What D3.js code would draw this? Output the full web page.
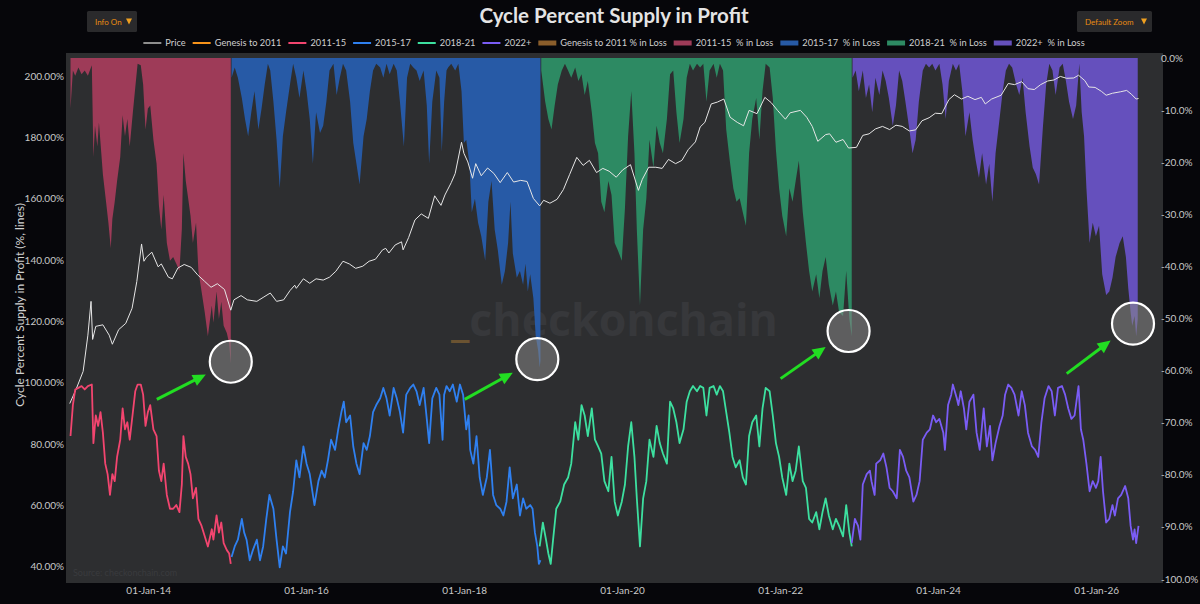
<!DOCTYPE html>
<html>
<head>
<meta charset="UTF-8">
<style>
  body { margin: 0; background: #06060a; }
  svg { display: block; font-family: Lato, "Open Sans", sans-serif; }
</style>
</head>
<body>
<svg id="chart" width="1200" height="604"></svg>
<script src="https://d3js.org/d3.v7.min.js"></script>
<script>
// ---- data: [decimal year, value] ----
const price = [[2013.00,13.5],[2013.08,20],[2013.17,33],[2013.23,90],[2013.27,230],[2013.29,80],[2013.33,115],[2013.42,120],[2013.50,90],[2013.54,70],[2013.62,105],[2013.71,125],[2013.79,190],[2013.85,400],[2013.91,1130],[2013.94,700],[2013.97,780],[2014.04,900],[2014.12,600],[2014.16,650],[2014.25,450],[2014.30,430],[2014.37,580],[2014.45,640],[2014.54,590],[2014.62,480],[2014.71,400],[2014.79,340],[2014.87,375],[2014.96,320],[2015.04,180],[2015.08,240],[2015.17,270],[2015.25,240],[2015.37,230],[2015.46,260],[2015.54,290],[2015.62,230],[2015.71,240],[2015.79,310],[2015.85,360],[2015.87,330],[2015.96,430],[2016.04,380],[2016.12,430],[2016.21,415],[2016.29,450],[2016.37,530],[2016.46,700],[2016.54,650],[2016.62,575],[2016.71,610],[2016.79,700],[2016.87,740],[2016.96,960],[2017.00,1000],[2017.04,880],[2017.12,1100],[2017.20,1200],[2017.22,960],[2017.29,1350],[2017.37,2200],[2017.45,2600],[2017.54,2300],[2017.62,4300],[2017.70,3300],[2017.75,4400],[2017.83,6200],[2017.88,8000],[2017.96,19000],[2017.99,14000],[2018.04,11000],[2018.10,7000],[2018.14,10500],[2018.21,7500],[2018.29,9300],[2018.37,8000],[2018.45,6200],[2018.54,8200],[2018.62,6300],[2018.71,6600],[2018.79,6400],[2018.87,4000],[2018.95,3250],[2019.00,3800],[2019.08,3500],[2019.17,3900],[2019.25,5100],[2019.33,7800],[2019.42,12500],[2019.50,10000],[2019.58,11500],[2019.67,8200],[2019.75,9200],[2019.83,8500],[2019.92,7200],[2020.00,8800],[2020.10,10200],[2020.20,5000],[2020.25,6800],[2020.33,9500],[2020.42,9500],[2020.50,9200],[2020.58,11800],[2020.67,10500],[2020.75,11500],[2020.83,15500],[2020.92,19200],[2020.98,29000],[2021.04,33000],[2021.12,55000],[2021.20,58000],[2021.28,63000],[2021.36,38000],[2021.45,33000],[2021.53,30000],[2021.60,46000],[2021.70,42000],[2021.80,66000],[2021.88,57000],[2021.96,46000],[2022.06,36000],[2022.12,43000],[2022.25,46000],[2022.33,38000],[2022.40,29500],[2022.47,19500],[2022.57,23500],[2022.62,24000],[2022.70,19000],[2022.79,20500],[2022.86,16200],[2022.96,16500],[2023.04,23000],[2023.12,24000],[2023.20,27500],[2023.29,29500],[2023.38,27000],[2023.46,30500],[2023.54,29500],[2023.63,26000],[2023.71,26800],[2023.79,34500],[2023.88,37500],[2023.96,42500],[2024.04,42000],[2024.13,62000],[2024.20,71000],[2024.29,63000],[2024.37,68000],[2024.46,62000],[2024.54,66000],[2024.59,55000],[2024.67,63000],[2024.79,70000],[2024.88,97000],[2024.96,94000],[2025.05,102000],[2025.13,84000],[2025.21,82000],[2025.29,94000],[2025.38,104000],[2025.46,107000],[2025.54,118000],[2025.62,112000],[2025.71,113000],[2025.77,122000],[2025.85,105000],[2025.90,88000],[2025.98,87000],[2026.06,78000],[2026.12,70000],[2026.20,74000],[2026.30,77000],[2026.38,80000],[2026.44,72000],[2026.50,63000],[2026.53,64000]];

// % supply in profit, per cycle (left axis)
const profit1115 = [[2013.01,82.6],[2013.04,92.7],[2013.07,97.8],[2013.11,98.3],[2013.15,98.9],[2013.19,97.8],[2013.23,98.9],[2013.28,99.4],[2013.30,80.3],[2013.33,89.3],[2013.36,85.9],[2013.39,90.4],[2013.42,83.7],[2013.45,73.6],[2013.48,70.2],[2013.51,63.4],[2013.54,70.2],[2013.57,67.9],[2013.60,75.8],[2013.64,81.4],[2013.67,91.6],[2013.70,84.8],[2013.73,87.1],[2013.76,81.4],[2013.80,90.4],[2013.83,97.2],[2013.86,99.4],[2013.90,99.4],[2013.93,96.1],[2013.96,85.9],[2013.99,90.4],[2014.02,92.7],[2014.06,84.8],[2014.10,82.6],[2014.13,71.3],[2014.16,67.9],[2014.19,73.6],[2014.23,63.4],[2014.27,58.9],[2014.31,58.9],[2014.35,60.1],[2014.39,57.8],[2014.42,66.8],[2014.44,82.6],[2014.47,75.8],[2014.50,73.6],[2014.53,70.2],[2014.56,62.3],[2014.60,65.7],[2014.63,55.6],[2014.67,53.3],[2014.71,49.9],[2014.75,46.6],[2014.80,52.2],[2014.82,48.8],[2014.86,56.7],[2014.89,51.1],[2014.92,54.4],[2014.95,47.7],[2014.99,45.4],[2015.02,44.3],[2015.04,40.9]];

const profit1517 = [[2015.05,43.2],[2015.09,46.6],[2015.13,48.8],[2015.18,55.6],[2015.21,51.1],[2015.24,48.8],[2015.28,42.1],[2015.32,45.4],[2015.37,48.8],[2015.41,42.1],[2015.45,46.6],[2015.49,55.6],[2015.53,63.4],[2015.58,58.9],[2015.62,48.8],[2015.66,39.8],[2015.70,46.6],[2015.74,44.3],[2015.79,57.8],[2015.83,64.6],[2015.87,74.7],[2015.91,69.1],[2015.96,79.2],[2016.00,73.6],[2016.04,70.2],[2016.08,63.4],[2016.10,60.1],[2016.15,67.9],[2016.19,71.3],[2016.23,69.1],[2016.27,74.7],[2016.31,81.4],[2016.36,78.1],[2016.40,84.8],[2016.44,90.4],[2016.47,93.8],[2016.50,87.1],[2016.55,89.3],[2016.59,79.2],[2016.63,73.6],[2016.67,70.2],[2016.72,80.3],[2016.76,78.1],[2016.80,82.6],[2016.84,90.4],[2016.88,92.7],[2016.93,94.9],[2016.97,98.3],[2017.01,94.9],[2017.05,89.3],[2017.10,98.3],[2017.14,94.9],[2017.18,90.4],[2017.22,83.7],[2017.26,96.1],[2017.31,98.3],[2017.35,99.4],[2017.39,97.2],[2017.43,92.7],[2017.48,98.3],[2017.52,88.2],[2017.55,80.3],[2017.59,94.9],[2017.64,98.3],[2017.68,96.1],[2017.72,81.4],[2017.74,96.1],[2017.77,98.9],[2017.81,97.2],[2017.85,99.4],[2017.90,93.8],[2017.94,99.4],[2017.98,96.1],[2018.02,84.8],[2018.05,89.3],[2018.07,78.1],[2018.11,73.6],[2018.15,82.6],[2018.19,69.1],[2018.23,63.4],[2018.28,69.1],[2018.32,78.1],[2018.36,63.4],[2018.40,60.1],[2018.45,58.9],[2018.49,56.7],[2018.53,61.2],[2018.57,72.4],[2018.61,62.3],[2018.66,66.8],[2018.70,56.7],[2018.74,62.3],[2018.78,58.9],[2018.83,60.1],[2018.86,58.9],[2018.89,51.1],[2018.92,46.6],[2018.94,40.9],[2018.96,42.1]];

const profit1821 = [[2018.95,46.6],[2018.99,54.4],[2019.03,48.8],[2019.06,44.3],[2019.09,40.9],[2019.12,48.8],[2019.16,58.9],[2019.21,61.2],[2019.26,66.8],[2019.31,69.1],[2019.35,73.6],[2019.40,87.1],[2019.44,81.4],[2019.48,92.7],[2019.52,89.3],[2019.56,82.6],[2019.61,91.6],[2019.65,81.4],[2019.69,79.2],[2019.73,76.9],[2019.77,67.9],[2019.82,64.6],[2019.86,75.8],[2019.90,61.2],[2019.94,56.7],[2019.99,61.2],[2020.03,66.8],[2020.07,79.2],[2020.11,87.1],[2020.15,75.8],[2020.18,62.3],[2020.22,46.6],[2020.26,62.3],[2020.30,67.9],[2020.34,81.4],[2020.39,75.8],[2020.43,85.9],[2020.47,80.3],[2020.51,76.9],[2020.56,73.6],[2020.60,93.8],[2020.64,91.6],[2020.68,87.1],[2020.72,80.3],[2020.77,84.8],[2020.81,93.8],[2020.85,97.2],[2020.89,98.9],[2020.94,97.2],[2020.98,98.9],[2021.02,98.3],[2021.06,89.3],[2021.10,98.3],[2021.15,98.9],[2021.19,96.1],[2021.23,98.9],[2021.27,97.2],[2021.31,90.4],[2021.35,83.7],[2021.39,75.8],[2021.43,72.4],[2021.48,74.7],[2021.52,69.1],[2021.56,66.8],[2021.60,82.6],[2021.64,87.1],[2021.69,89.3],[2021.73,79.2],[2021.77,91.6],[2021.81,98.3],[2021.86,97.2],[2021.90,89.3],[2021.94,80.3],[2021.98,75.8],[2022.02,69.1],[2022.07,63.4],[2022.11,73.6],[2022.15,67.9],[2022.19,71.3],[2022.23,79.2],[2022.28,67.9],[2022.32,65.7],[2022.36,55.6],[2022.40,54.4],[2022.45,57.8],[2022.49,52.2],[2022.53,57.8],[2022.57,62.3],[2022.61,56.7],[2022.66,52.2],[2022.70,55.6],[2022.74,53.3],[2022.79,49.9],[2022.83,60.1],[2022.87,51.1],[2022.90,46.6]];

const profit2022 = [[2022.90,47.7],[2022.94,55.6],[2022.98,53.3],[2023.01,48.8],[2023.04,66.8],[2023.09,70.2],[2023.13,71.3],[2023.15,67.9],[2023.19,63.4],[2023.21,73.6],[2023.26,74.7],[2023.30,76.9],[2023.34,72.4],[2023.38,65.7],[2023.42,64.6],[2023.47,62.3],[2023.51,78.1],[2023.55,75.8],[2023.59,71.3],[2023.63,69.1],[2023.68,61.2],[2023.72,63.4],[2023.76,67.9],[2023.80,81.4],[2023.85,83.7],[2023.89,84.8],[2023.93,89.3],[2023.97,87.1],[2024.01,88.2],[2024.06,83.7],[2024.08,78.1],[2024.12,92.7],[2024.16,96.1],[2024.18,99.4],[2024.23,94.9],[2024.25,92.7],[2024.28,97.2],[2024.32,91.6],[2024.35,84.8],[2024.39,93.8],[2024.44,96.1],[2024.48,83.7],[2024.52,78.1],[2024.57,91.6],[2024.61,79.2],[2024.65,85.9],[2024.68,74.7],[2024.72,80.3],[2024.77,85.9],[2024.81,89.3],[2024.84,96.1],[2024.88,99.4],[2024.92,98.3],[2024.96,96.1],[2025.01,89.3],[2025.05,97.2],[2025.09,92.7],[2025.13,83.7],[2025.18,79.2],[2025.22,78.1],[2025.26,75.8],[2025.30,87.1],[2025.34,94.9],[2025.39,98.9],[2025.43,97.2],[2025.47,89.3],[2025.51,98.3],[2025.56,98.9],[2025.60,96.1],[2025.64,91.6],[2025.68,88.2],[2025.72,89.3],[2025.77,98.9],[2025.80,84.8],[2025.83,81.4],[2025.87,73.6],[2025.91,64.6],[2025.95,67.9],[2025.99,65.7],[2026.02,67.9],[2026.05,75.8],[2026.08,64.6],[2026.12,54.4],[2026.16,55.6],[2026.20,60.1],[2026.23,56.7],[2026.27,62.3],[2026.31,63.4],[2026.36,66.3],[2026.40,62.3],[2026.43,53.3],[2026.46,48.8],[2026.48,52.2],[2026.50,47.7],[2026.53,53.3]];

// % supply in loss, per cycle (right axis)
const loss1115 = [[2013.01,-9.7],[2013.04,-2.4],[2013.07,-3.4],[2013.11,-1.8],[2013.15,-3.1],[2013.19,-2.4],[2013.23,-3.4],[2013.28,-1.4],[2013.30,-19.0],[2013.32,-13.0],[2013.35,-17.0],[2013.37,-12.4],[2013.40,-18.3],[2013.42,-22.3],[2013.46,-27.6],[2013.49,-31.6],[2013.52,-36.5],[2013.54,-30.9],[2013.57,-27.6],[2013.60,-23.6],[2013.64,-19.0],[2013.67,-11.0],[2013.70,-15.0],[2013.73,-11.7],[2013.76,-17.0],[2013.80,-10.4],[2013.83,-5.7],[2013.86,-1.1],[2013.90,-1.4],[2013.93,-5.1],[2013.96,-13.7],[2013.99,-9.7],[2014.02,-9.1],[2014.06,-15.7],[2014.10,-20.3],[2014.13,-28.3],[2014.16,-32.9],[2014.19,-26.3],[2014.23,-35.5],[2014.27,-38.9],[2014.31,-38.2],[2014.35,-39.5],[2014.39,-40.9],[2014.42,-32.9],[2014.44,-18.3],[2014.47,-23.6],[2014.50,-26.9],[2014.53,-30.3],[2014.56,-35.5],[2014.60,-31.6],[2014.63,-40.9],[2014.67,-44.8],[2014.71,-48.8],[2014.75,-53.4],[2014.80,-47.5],[2014.82,-50.8],[2014.86,-44.8],[2014.89,-50.1],[2014.92,-46.8],[2014.95,-51.4],[2014.99,-52.8],[2015.02,-54.8],[2015.04,-58.7]];

const loss1517 = [[2015.05,-3.8],[2015.09,-1.8],[2015.13,-3.8],[2015.18,-7.7],[2015.22,-11.7],[2015.26,-15.0],[2015.30,-10.4],[2015.34,-6.4],[2015.39,-13.7],[2015.43,-9.7],[2015.47,-5.1],[2015.51,-1.1],[2015.54,-2.4],[2015.58,-8.4],[2015.62,-15.7],[2015.66,-25.0],[2015.70,-15.0],[2015.74,-10.4],[2015.79,-5.1],[2015.83,-1.1],[2015.87,-3.8],[2015.91,-7.7],[2015.96,-2.4],[2016.00,-6.4],[2016.04,-11.7],[2016.08,-20.3],[2016.12,-10.4],[2016.17,-14.4],[2016.21,-13.0],[2016.25,-8.4],[2016.29,-2.4],[2016.34,-1.1],[2016.38,-7.1],[2016.42,-3.8],[2016.46,-1.1],[2016.50,-2.4],[2016.55,-8.4],[2016.59,-16.3],[2016.63,-20.3],[2016.67,-24.3],[2016.72,-15.0],[2016.76,-11.7],[2016.80,-6.4],[2016.84,-2.4],[2016.88,-1.1],[2016.93,-1.8],[2016.97,-3.8],[2017.01,-1.1],[2017.05,-3.1],[2017.10,-1.1],[2017.14,-2.4],[2017.18,-8.4],[2017.23,-17.0],[2017.27,-3.8],[2017.31,-1.1],[2017.35,-1.8],[2017.39,-2.4],[2017.43,-4.4],[2017.48,-2.4],[2017.52,-9.1],[2017.55,-20.3],[2017.59,-8.4],[2017.64,-2.4],[2017.68,-3.8],[2017.71,-18.0],[2017.74,-8.4],[2017.77,-2.4],[2017.79,-1.8],[2017.83,-1.1],[2017.88,-2.4],[2017.92,-1.1],[2017.96,-6.4],[2017.99,-16.3],[2018.02,-15.7],[2018.06,-20.3],[2018.09,-29.6],[2018.13,-27.0],[2018.17,-31.6],[2018.21,-34.2],[2018.26,-38.9],[2018.30,-27.6],[2018.34,-23.6],[2018.38,-32.9],[2018.42,-36.9],[2018.47,-43.5],[2018.51,-40.9],[2018.55,-35.5],[2018.58,-27.6],[2018.61,-37.5],[2018.66,-42.2],[2018.70,-40.9],[2018.74,-43.5],[2018.77,-39.5],[2018.80,-44.8],[2018.83,-41.5],[2018.87,-46.1],[2018.90,-53.4],[2018.93,-56.1],[2018.95,-59.4],[2018.96,-58.1]];

const loss1821 = [[2018.97,-2.4],[2019.02,-8.4],[2019.06,-11.7],[2019.10,-13.7],[2019.14,-9.1],[2019.18,-5.1],[2019.23,-2.4],[2019.27,-1.1],[2019.31,-2.4],[2019.35,-3.8],[2019.40,-1.8],[2019.44,-4.4],[2019.48,-3.1],[2019.52,-7.1],[2019.56,-4.4],[2019.61,-10.4],[2019.65,-16.3],[2019.69,-18.3],[2019.73,-27.6],[2019.77,-29.6],[2019.82,-23.6],[2019.86,-26.3],[2019.90,-35.5],[2019.94,-36.9],[2019.99,-38.9],[2020.03,-28.9],[2020.07,-15.0],[2020.11,-6.4],[2020.15,-18.3],[2020.18,-32.9],[2020.22,-47.5],[2020.26,-32.9],[2020.30,-27.0],[2020.34,-15.7],[2020.39,-21.0],[2020.43,-13.0],[2020.47,-16.3],[2020.51,-18.3],[2020.56,-11.7],[2020.60,-3.1],[2020.64,-2.4],[2020.68,-10.4],[2020.72,-16.3],[2020.77,-11.7],[2020.81,-3.8],[2020.85,-1.1],[2020.89,-2.4],[2020.94,-1.1],[2020.98,-1.8],[2021.02,-1.1],[2021.06,-8.4],[2021.10,-2.4],[2021.15,-1.1],[2021.19,-3.8],[2021.23,-1.1],[2021.27,-2.4],[2021.31,-13.7],[2021.36,-20.3],[2021.40,-25.0],[2021.44,-27.6],[2021.48,-26.9],[2021.53,-30.3],[2021.56,-32.2],[2021.60,-18.3],[2021.64,-11.7],[2021.69,-7.7],[2021.73,-15.7],[2021.77,-6.4],[2021.81,-1.1],[2021.86,-1.8],[2021.90,-7.7],[2021.94,-17.7],[2021.98,-25.0],[2022.02,-30.3],[2022.07,-34.2],[2022.11,-25.0],[2022.15,-27.6],[2022.19,-23.6],[2022.23,-19.7],[2022.28,-29.6],[2022.32,-35.5],[2022.36,-40.9],[2022.40,-44.8],[2022.45,-41.5],[2022.49,-46.1],[2022.53,-40.9],[2022.57,-38.2],[2022.61,-43.5],[2022.66,-47.5],[2022.70,-44.8],[2022.74,-48.8],[2022.79,-49.5],[2022.83,-40.9],[2022.87,-50.1],[2022.90,-53.4]];

const loss2022 = [[2022.91,-3.8],[2022.95,-2.4],[2022.99,-6.4],[2023.04,-2.4],[2023.08,-7.7],[2023.12,-5.1],[2023.16,-10.4],[2023.20,-3.8],[2023.25,-7.1],[2023.29,-2.4],[2023.33,-4.4],[2023.37,-7.7],[2023.42,-13.0],[2023.46,-9.1],[2023.50,-2.4],[2023.54,-4.4],[2023.58,-8.4],[2023.63,-13.7],[2023.67,-18.3],[2023.71,-15.7],[2023.75,-8.4],[2023.80,-2.4],[2023.84,-1.1],[2023.88,-1.8],[2023.92,-1.1],[2023.96,-2.4],[2024.01,-1.1],[2024.05,-5.1],[2024.09,-11.7],[2024.13,-4.4],[2024.18,-1.1],[2024.22,-2.4],[2024.26,-1.1],[2024.30,-6.4],[2024.34,-15.0],[2024.39,-10.4],[2024.43,-15.7],[2024.47,-19.7],[2024.51,-23.0],[2024.55,-18.3],[2024.60,-24.3],[2024.64,-20.3],[2024.68,-27.6],[2024.72,-18.3],[2024.77,-11.7],[2024.81,-6.4],[2024.85,-2.4],[2024.89,-1.1],[2024.93,-1.8],[2024.98,-5.1],[2025.02,-7.1],[2025.06,-3.8],[2025.10,-10.4],[2025.15,-17.0],[2025.19,-21.0],[2025.23,-22.3],[2025.27,-24.3],[2025.32,-13.0],[2025.36,-5.1],[2025.40,-1.1],[2025.44,-2.4],[2025.48,-7.1],[2025.53,-1.8],[2025.57,-1.1],[2025.61,-4.4],[2025.65,-8.4],[2025.70,-11.7],[2025.74,-9.1],[2025.78,-1.1],[2025.81,-10.4],[2025.84,-15.0],[2025.87,-25.0],[2025.91,-35.5],[2025.95,-31.6],[2025.99,-34.2],[2026.03,-32.2],[2026.07,-41.5],[2026.12,-45.5],[2026.16,-44.8],[2026.20,-42.2],[2026.24,-38.2],[2026.29,-35.5],[2026.33,-34.2],[2026.37,-38.2],[2026.40,-44.2],[2026.43,-48.8],[2026.45,-51.4],[2026.48,-49.5],[2026.50,-53.4],[2026.52,-50.1]];

// cycle lows that are circled
const lowDates = [2015.04, 2018.92, 2022.86, 2026.46];
const lowLoss = [-58.3, -57.8, -52.4, -51.0];
const arrowAngles = [-27, -29, -35, -37];

const leftTicks = [40, 60, 80, 100, 120, 140, 160, 180, 200];
const rightTicks = [0, -10, -20, -30, -40, -50, -60, -70, -80, -90, -100];

const legendItems = [
  {label: "Price", color: "#8e8e8e", kind: "line"},
  {label: "Genesis to 2011", color: "#f7931a", kind: "line"},
  {label: "2011-15", color: "#f2456f", kind: "line"},
  {label: "2015-17", color: "#2f80f0", kind: "line"},
  {label: "2018-21", color: "#3de0a0", kind: "line"},
  {label: "2022+", color: "#7a5cf5", kind: "line"},
  {label: "Genesis to 2011 % in Loss", color: "#8b5e2b", kind: "bar"},
  {label: "2011-15 \u00a0% in Loss", color: "#9e3b58", kind: "bar"},
  {label: "2015-17 \u00a0% in Loss", color: "#275aa6", kind: "bar"},
  {label: "2018-21 \u00a0% in Loss", color: "#2d8a63", kind: "bar"},
  {label: "2022+ \u00a0% in Loss", color: "#6550bd", kind: "bar"}
];

// ---- setup ----
const svg = d3.select("#chart");
const plot = {left: 66, right: 1163, top: 53, bottom: 583};

function toDate(t) {
  const y = Math.floor(t);
  const a = Date.UTC(y, 0, 1), b = Date.UTC(y + 1, 0, 1);
  return new Date(a + (t - y) * (b - a));
}

const x = d3.scaleUtc()
  .domain([toDate(2012.953), toDate(2026.84)])
  .range([plot.left, plot.right]);
const yL = d3.scaleLinear().domain([40, 200]).range([566.7, 76]);
const yR = d3.scaleLinear().domain([-100, 0]).range([579, 58]);
const yP = d3.scaleLog().domain([0.093, 226000]).range([583, 53]);

svg.append("rect").attr("width", 1200).attr("height", 604).attr("fill", "#06060a");
svg.append("rect")
  .attr("x", plot.left).attr("y", plot.top)
  .attr("width", plot.right - plot.left).attr("height", plot.bottom - plot.top)
  .attr("fill", "#2d2e30");

svg.append("clipPath").attr("id", "clip")
  .append("rect")
  .attr("x", plot.left).attr("y", plot.top)
  .attr("width", plot.right - plot.left).attr("height", plot.bottom - plot.top);

// watermark
const wm = svg.append("text")
  .attr("x", 451).attr("y", 336)
  .style("font-family", "'Open Sans', sans-serif")
  .style("font-weight", 700)
  .style("font-size", "46px");
wm.append("tspan").attr("fill", "#6b5331").text("_");
wm.append("tspan").attr("fill", "#37383b").text("checkonchain");
const wmLen = wm.node().getComputedTextLength();
wm.style("font-size", (46 * 327 / wmLen) + "px");

svg.append("text")
  .attr("x", 73).attr("y", 576)
  .attr("fill", "#3a3b3e")
  .style("font-size", "9px")
  .text("Source: checkonchain.com");

const g = svg.append("g").attr("clip-path", "url(#clip)");

// loss fills
const area = d3.area()
  .x(d => x(toDate(d[0])))
  .y0(yR(0))
  .y1(d => yR(d[1]));

const fills = [
  [loss1115, "#9e3b58"],
  [loss1517, "#275aa6"],
  [loss1821, "#2d8a63"],
  [loss2022, "#6550bd"]
];
fills.forEach(([data, color]) => {
  g.append("path").datum(data).attr("d", area).attr("fill", color);
});

// price
g.append("path").datum(price)
  .attr("fill", "none")
  .attr("stroke", "#e6e6e6")
  .attr("stroke-width", 1)
  .attr("d", d3.line().x(d => x(toDate(d[0]))).y(d => yP(d[1])));

// profit lines
const line = d3.line().x(d => x(toDate(d[0]))).y(d => yL(d[1]));
const lines = [
  [profit1115, "#f2456f"],
  [profit1517, "#2f80f0"],
  [profit1821, "#3de0a0"],
  [profit2022, "#7a5cf5"]
];
lines.forEach(([data, color]) => {
  g.append("path").datum(data)
    .attr("fill", "none")
    .attr("stroke", color)
    .attr("stroke-width", 1.8)
    .attr("stroke-linejoin", "round")
    .attr("d", line);
});

// circles and arrows on the cycle lows
const r = 21;
lowDates.forEach((t, i) => {
  const cx = x(toDate(t)), cy = yR(lowLoss[i]);
  g.append("circle")
    .attr("cx", cx).attr("cy", cy).attr("r", r)
    .attr("fill", "rgba(135,135,135,0.55)")
    .attr("stroke", "#ffffff")
    .attr("stroke-width", 2.2);

  const a = arrowAngles[i] * Math.PI / 180;
  const ux = Math.cos(a), uy = Math.sin(a);
  const tipX = cx - ux * 28, tipY = cy - uy * 28;
  const tailX = tipX - ux * 55, tailY = tipY - uy * 55;
  const baseX = tipX - ux * 13, baseY = tipY - uy * 13;
  g.append("line")
    .attr("x1", tailX).attr("y1", tailY)
    .attr("x2", baseX + ux * 2).attr("y2", baseY + uy * 2)
    .attr("stroke", "#22dd22").attr("stroke-width", 3);
  g.append("path")
    .attr("d", `M${tipX},${tipY}L${baseX - uy * 6},${baseY + ux * 6}L${baseX + uy * 6},${baseY - ux * 6}Z`)
    .attr("fill", "#22dd22");
});

// axes
const axisText = "#c8c8c8";
svg.append("g").selectAll("text")
  .data(leftTicks)
  .join("text")
  .attr("x", 64)
  .attr("y", d => yL(d))
  .attr("dy", "0.35em")
  .attr("text-anchor", "end")
  .attr("fill", axisText)
  .style("font-size", "10px")
  .text(d => d.toFixed(2) + "%");

svg.append("g").selectAll("text")
  .data(rightTicks)
  .join("text")
  .attr("x", 1161)
  .attr("y", d => yR(d))
  .attr("dy", "0.35em")
  .attr("fill", axisText)
  .style("font-size", "10px")
  .text(d => (d === 0 ? "" : "-") + Math.abs(d).toFixed(1) + "%");

const xTicks = d3.utcYear.every(2).range(x.domain()[0], x.domain()[1]);
svg.append("g").selectAll("text")
  .data(xTicks)
  .join("text")
  .attr("x", d => x(d))
  .attr("y", 594)
  .attr("text-anchor", "middle")
  .attr("fill", axisText)
  .style("font-size", "10px")
  .text(d => d3.utcFormat("%d-%b-%y")(d));

svg.append("text")
  .attr("transform", "translate(24,305) rotate(-90)")
  .attr("text-anchor", "middle")
  .attr("fill", "#d0d0d0")
  .style("font-size", "12px")
  .text("Cycle Percent Supply in Profit (%, lines)");

// title
svg.append("text")
  .attr("x", 614).attr("y", 23)
  .attr("text-anchor", "middle")
  .attr("fill", "#e4e4e4")
  .style("font-size", "20.5px")
  .style("font-weight", 700)
  .text("Cycle Percent Supply in Profit");

// legend: fit into the span 143..1085
const symW = 18, symGap = 4, itemGap = 7, legendSpan = 942;
const legend = svg.append("g");
const items = legendItems.map(item => {
  const it = legend.append("g");
  if (item.kind === "line") {
    it.append("line").attr("x1", 0).attr("x2", symW).attr("y1", 0).attr("y2", 0)
      .attr("stroke", item.color).attr("stroke-width", 2);
  } else {
    it.append("rect").attr("x", 0).attr("y", -2.5).attr("width", symW).attr("height", 5)
      .attr("fill", item.color);
  }
  const t = it.append("text").attr("x", symW + symGap).attr("dy", "0.35em")
    .attr("fill", "#cfcfcf").style("font-size", "10px")
    .text(item.label);
  return {it, t};
});
const fixed = items.length * (symW + symGap + itemGap) - itemGap;
const textTotal = d3.sum(items, d => d.t.node().getComputedTextLength());
const fs = 10 * (legendSpan - fixed) / textTotal;
let lx = 0;
items.forEach(d => {
  d.t.style("font-size", fs + "px");
  d.it.attr("transform", `translate(${lx},0)`);
  lx += symW + symGap + d.t.node().getComputedTextLength() + itemGap;
});
legend.attr("transform", `translate(${614 - (lx - itemGap) / 2},43)`);

// buttons
function button(bx, bw, label) {
  const b = svg.append("g").attr("transform", `translate(${bx},11)`);
  b.append("rect").attr("width", bw).attr("height", 21).attr("rx", 1.5).attr("fill", "#2a2a2c");
  b.append("text").attr("x", 8).attr("y", 14).attr("fill", "#e88a12")
    .style("font-size", "8px").text(label);
  b.append("path").attr("d", `M${bw - 11},7.5h6l-3,6z`).attr("fill", "#f0a020");
}
button(87, 50, "Info On");
button(1077, 75, "Default Zoom");
</script>
</body>
</html>
